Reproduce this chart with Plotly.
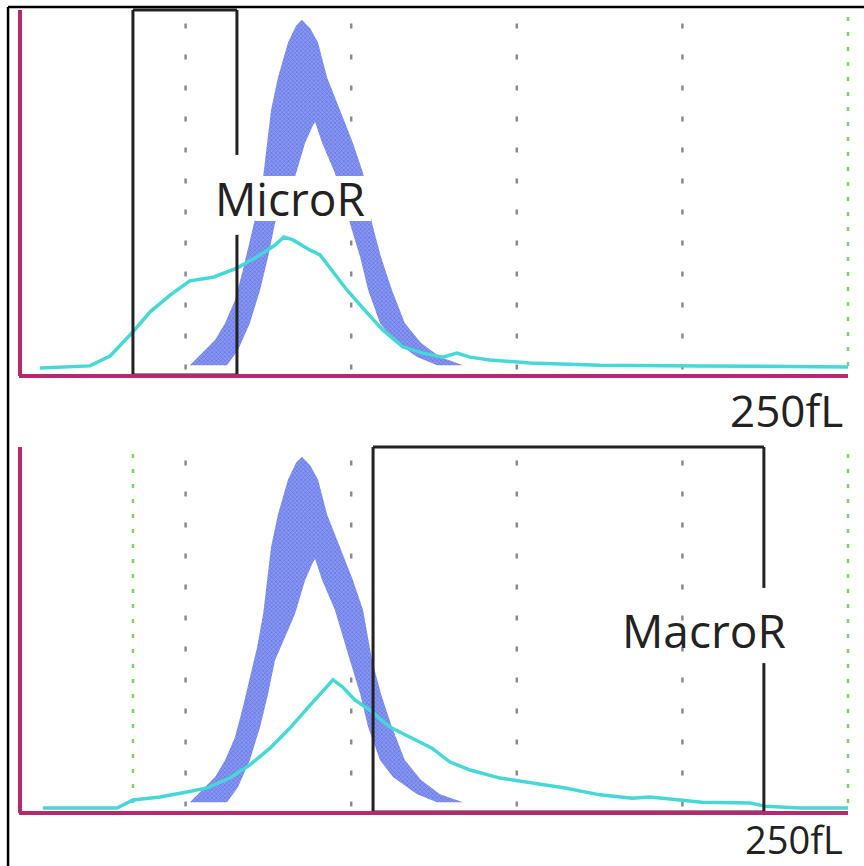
import plotly.graph_objects as go

# ---------------- data (fL on x, relative count on y) ----------------
band_outer_x = [51.3, 55.3, 58.9, 61.9, 64.9, 67.3, 69.4, 71.6, 73.4, 74.6, 75.8, 77.9, 80.9, 83.3, 85.1,
                87.6, 90.0, 92.7, 96.6, 100.5, 103.6, 106.3, 109.0, 112.3, 116.2, 121.1, 126.8, 133.8]
band_outer_y = [2.7, 6.3, 9.6, 14.2, 20.5, 28.8, 37.0, 45.2, 54.2, 63.6, 72.6, 81.6, 91.0, 95.6, 97.3,
                95.0, 91.0, 81.6, 72.6, 63.6, 55.3, 41.6, 32.3, 23.3, 14.2, 8.8, 4.9, 2.7]
band_inner_x = [51.3, 62.5, 65.8, 69.4, 72.5, 74.9, 77.0, 80.0, 83.0, 86.1, 88.5, 89.1,
                91.2, 95.1, 99.6, 102.7, 105.1, 108.7, 112.6, 119.9, 125.9, 133.8]
band_inner_y = [2.7, 2.7, 6.8, 14.2, 23.3, 32.3, 41.6, 48.0, 54.2, 63.6, 68.5, 69.3,
                63.6, 55.3, 41.6, 32.3, 23.3, 14.2, 9.6, 4.9, 2.7, 2.7]

micro_cyan_x = [6.0, 21.1, 27.2, 34.1, 39.3, 45.3, 51.3, 58.3, 65.5, 72.5, 77.0, 79.7, 82.4, 87.6, 90.6,
                93.6, 98.7, 104.8, 109.6, 115.6, 121.7, 127.7, 131.9, 135.9, 141.9, 154.0, 175.1, 205.3, 250.0]
micro_cyan_y = [1.9, 2.5, 5.2, 11.8, 17.3, 21.9, 25.8, 26.8, 29.3, 32.9, 35.6, 37.8, 37.0, 34.2, 32.9,
                29.3, 23.3, 17.0, 12.3, 7.7, 6.0, 4.9, 6.0, 4.9, 4.1, 3.3, 2.7, 2.5, 2.2]

macro_cyan_x = [6.9, 29.3, 34.1, 42.3, 50.4, 56.5, 63.4, 69.4, 75.5, 81.5, 87.6, 92.1, 94.5, 97.5, 101.1,
                105.7, 111.7, 117.8, 124.4, 129.8, 135.9, 144.9, 154.6, 164.6, 175.1, 184.8, 190.2,
                199.3, 205.9, 220.4, 224.9, 235.5, 250.0]
macro_cyan_y = [1.1, 1.1, 3.3, 4.1, 5.5, 6.6, 9.3, 12.9, 17.5, 23.0, 29.3, 34.0, 36.2, 34.2, 30.7,
                27.9, 23.3, 20.5, 17.5, 13.7, 11.5, 9.3, 7.9, 6.6, 4.7, 3.8, 4.1,
                3.3, 2.7, 2.5, 1.6, 1.1, 1.1]

grid_fl = [50, 100, 150, 200]
green_top_fl = [250]
green_bottom_fl = [34.1, 250]
micro_gate = [34.1, 65.5]
macro_gate = [106.6, 224.6]
x_max = 250
y_top = 100
scale_label = "250fL"

# ---------------- styles ----------------
MAGENTA = "#b8286f"
CYAN = "#45d8d6"
GRAY = "#8a8a8a"
GREEN = "#7fd45a"
BLACK = "#222222"
FONT = "Open Sans"

fig = go.Figure()

band_x = band_outer_x + band_inner_x[::-1]
band_y = band_outer_y + band_inner_y[::-1]
for xa, ya in [("x", "y"), ("x2", "y2")]:
    fig.add_trace(go.Scatter(
        x=band_x, y=band_y, xaxis=xa, yaxis=ya, mode="lines", fill="toself",
        line=dict(width=0, color="#5a6de0"),
        fillcolor="#6a7de6",
        fillpattern=dict(shape="x", fgcolor="#3040c8", bgcolor="#8898f2", size=3, solidity=0.35),
        hoverinfo="skip", showlegend=False))

fig.add_trace(go.Scatter(x=micro_cyan_x, y=micro_cyan_y, xaxis="x", yaxis="y", mode="lines",
                         line=dict(color=CYAN, width=3.5), showlegend=False))
fig.add_trace(go.Scatter(x=macro_cyan_x, y=macro_cyan_y, xaxis="x2", yaxis="y2", mode="lines",
                         line=dict(color=CYAN, width=3.5), showlegend=False))

shapes = []
# grid (gray dashed) and green dotted limits
for xr, yr, greens in [("x", "y", green_top_fl), ("x2", "y2", green_bottom_fl)]:
    for g in grid_fl:
        shapes.append(dict(type="line", xref=xr, yref=yr, x0=g, x1=g, y0=1.5, y1=98.5,
                           line=dict(color=GRAY, width=2.5, dash="5px,26px"), layer="below"))
    for g in greens:
        shapes.append(dict(type="line", xref=xr, yref=yr, x0=g, x1=g, y0=2.5, y1=98.5,
                           line=dict(color=GREEN, width=2.5, dash="4px,11px"), layer="below"))

# white background behind MicroR label (cuts the band)
shapes.append(dict(type="rect", xref="x", yref="y", x0=57.0, x1=106.0, y0=42.2, y1=54.5,
                   fillcolor="white", line=dict(width=0), layer="above"))

# gates (rectangles with broken right side where the label sits)
def gate(xr, yr, g, gap_lo, gap_hi):
    lw = dict(color=BLACK, width=3)
    return [
        dict(type="line", xref=xr, yref=yr, x0=g[0], x1=g[0], y0=0, y1=y_top, line=lw),
        dict(type="line", xref=xr, yref=yr, x0=g[0], x1=g[1], y0=y_top, y1=y_top, line=lw),
        dict(type="line", xref=xr, yref=yr, x0=g[0], x1=g[1], y0=0, y1=0, line=lw),
        dict(type="line", xref=xr, yref=yr, x0=g[1], x1=g[1], y0=0, y1=gap_lo, line=lw),
        dict(type="line", xref=xr, yref=yr, x0=g[1], x1=g[1], y0=gap_hi, y1=y_top, line=lw),
    ]

shapes += gate("x", "y", micro_gate, 38.4, 60.3)
shapes += gate("x2", "y2", macro_gate, 40.8, 61.4)

# magenta axes
for xr, yr in [("x", "y"), ("x2", "y2")]:
    shapes.append(dict(type="line", xref=xr, yref=yr, x0=0, x1=0, y0=-0.3, y1=y_top,
                       line=dict(color=MAGENTA, width=4)))
    shapes.append(dict(type="line", xref=xr, yref=yr, x0=-0.3, x1=x_max, y0=-0.3, y1=-0.3,
                       line=dict(color=MAGENTA, width=4)))

# outer frame (left and top)
shapes.append(dict(type="line", xref="paper", yref="paper", x0=0.0093, x1=0.0093, y0=0, y1=0.992,
                   line=dict(color="black", width=2.5)))
shapes.append(dict(type="line", xref="paper", yref="paper", x0=0.0093, x1=1, y0=0.992, y1=0.992,
                   line=dict(color="black", width=2.5)))

annotations = [
    dict(text="MicroR", xref="x", yref="y", x=81.5, y=48.5, showarrow=False,
         font=dict(family=FONT, size=46, color=BLACK), xanchor="center", yanchor="middle"),
    dict(text="MacroR", xref="x2", yref="y2", x=206.4, y=49.9, showarrow=False,
         font=dict(family=FONT, size=46, color=BLACK), xanchor="center", yanchor="middle"),
    dict(text=scale_label, xref="x", yref="y", x=249.1, y=-9.6, showarrow=False,
         font=dict(family=FONT, size=44, color=BLACK), xanchor="right", yanchor="middle"),
    dict(text=scale_label, xref="x2", yref="y2", x=249.1, y=-7.4, showarrow=False,
         font=dict(family=FONT, size=38, color=BLACK), xanchor="right", yanchor="middle"),
]

ax = dict(visible=False, showgrid=False, zeroline=False, fixedrange=True)
fig.update_layout(
    width=864, height=866, margin=dict(l=0, r=0, t=0, b=0),
    paper_bgcolor="white", plot_bgcolor="white", showlegend=False,
    xaxis=dict(ax, range=[-6.04, 254.83], domain=[0, 1], anchor="y"),
    yaxis=dict(ax, range=[-15.89, 102.74], domain=[0.5, 1], anchor="x"),
    xaxis2=dict(ax, range=[-6.04, 254.83], domain=[0, 1], anchor="y2"),
    yaxis2=dict(ax, range=[-14.79, 103.84], domain=[0, 0.5], anchor="x2"),
    shapes=shapes, annotations=annotations,
)

fig.write_html("out.html", config={"displayModeBar": False},
               post_script="document.body.style.margin='0';document.body.style.overflow='hidden';")
